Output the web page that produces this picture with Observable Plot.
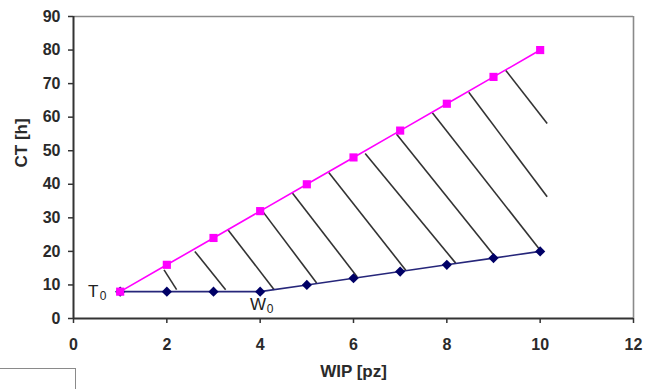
<!DOCTYPE html>
<html>
<head>
<meta charset="utf-8">
<script src="https://cdn.jsdelivr.net/npm/d3@7"></script>
<script src="https://cdn.jsdelivr.net/npm/@observablehq/plot@0.6"></script>
<style>
  html, body { margin: 0; padding: 0; background: #fff; }
  #wrap { position: relative; width: 653px; height: 389px; overflow: hidden; }
  #wrap svg { position: absolute; left: 0; top: 0; }
  #legendbox { position: absolute; left: -3px; top: 368px; width: 79px; height: 40px; border: 1.5px solid #8a8a8a; box-sizing: border-box; }
</style>
</head>
<body>
<div id="wrap"><div id="legendbox"></div></div>
<script>
// WIP values (pz)
const wip = [1, 2, 3, 4, 5, 6, 7, 8, 9, 10];
// Upper CT curve (magenta squares)
const ctUpper = [8, 16, 24, 32, 40, 48, 56, 64, 72, 80];
// Lower CT curve (navy diamonds)
const ctLower = [8, 8, 8, 8, 10, 12, 14, 16, 18, 20];
// Hatch lines (start on upper curve, end on lower curve or cut off)
const hatchX1 = [1.94, 2.60, 3.30, 4.05, 4.69, 5.47, 6.25, 6.92, 7.69, 8.47, 9.26];
const hatchY1 = [14.5, 20.0, 26.6, 32.0, 37.4, 43.5, 49.2, 55.0, 61.3, 67.4, 74.0];
const hatchX2 = [2.21, 3.26, 4.30, 5.21, 6.08, 7.12, 8.19, 9.04, 10.01, 10.15, 10.15];
const hatchY2 = [8.6, 8.6, 8.6, 10.6, 12.4, 14.4, 16.5, 18.3, 20.2, 36.3, 58.1];
// Axis ticks
const xTicks = [0, 2, 4, 6, 8, 10, 12];
const yTicks = [0, 10, 20, 30, 40, 50, 60, 70, 80, 90];
// Annotations
const annoMain = ["T", "W"];
const annoX = [0.31, 3.78];
const annoY = [8.1, 4.3];
const annoSub = ["0", "0"];
const annoSubX = [0.56, 4.14];
const annoSubY = [6.8, 2.9];

const upper = wip.map((w, i) => ({wip: w, ct: ctUpper[i]}));
const lower = wip.map((w, i) => ({wip: w, ct: ctLower[i]}));
const hatch = hatchX1.map((x, i) => ({x1: x, y1: hatchY1[i], x2: hatchX2[i], y2: hatchY2[i]}));
const anno = annoMain.map((t, i) => ({t, x: annoX[i], y: annoY[i]}));
const sub = annoSub.map((t, i) => ({t, x: annoSubX[i], y: annoSubY[i]}));

const chart = Plot.plot({
  width: 653,
  height: 389,
  marginLeft: 73,
  marginRight: 20,
  marginTop: 16,
  marginBottom: 71,
  x: {domain: [0, 12]},
  y: {domain: [0, 90]},
  style: {fontFamily: "Liberation Sans, Arial, sans-serif", fontSize: "16px", fontWeight: "bold", color: "#2a2a2a", background: "transparent"},
  marks: [
    Plot.ruleY([90], {stroke: "#8a8a8a", strokeWidth: 1.6}),
    Plot.ruleX([12], {stroke: "#8a8a8a", strokeWidth: 1.6}),
    Plot.axisX({ticks: xTicks, tickSize: 5, tickPadding: 15, label: null, stroke: "#333", strokeWidth: 1.5}),
    Plot.axisY({ticks: yTicks, tickSize: 5, tickPadding: 8, label: null, stroke: "#333", strokeWidth: 1.5}),
    Plot.ruleX([0], {stroke: "#333", strokeWidth: 2}),
    Plot.ruleY([0], {stroke: "#333", strokeWidth: 2}),
    Plot.link(hatch, {x1: "x1", y1: "y1", x2: "x2", y2: "y2", stroke: "#333", strokeWidth: 1.6}),
    Plot.line(lower, {x: "wip", y: "ct", stroke: "#26267a", strokeWidth: 1.6}),
    Plot.line(upper, {x: "wip", y: "ct", stroke: "#ff00ff", strokeWidth: 1.6}),
    Plot.dot(lower, {x: "wip", y: "ct", symbol: "diamond2", r: 4.6, fill: "#000066", stroke: "none"}),
    Plot.dot(upper, {x: "wip", y: "ct", symbol: "square", r: 4.6, fill: "#ff00ff", stroke: "none"}),
    Plot.text(anno, {x: "x", y: "y", text: "t", textAnchor: "start", fontSize: 17, fontWeight: "normal", fill: "#222"}),
    Plot.text(sub, {x: "x", y: "y", text: "t", textAnchor: "start", fontSize: 12, fontWeight: "normal", fill: "#222"}),
    Plot.text(["CT [h]"], {frameAnchor: "left", rotate: -90, dx: -52, fontSize: 17, fontWeight: "bold", fill: "#2a2a2a"}),
    Plot.text(["WIP [pz]"], {frameAnchor: "bottom", dy: 58, fontSize: 17, fontWeight: "bold", fill: "#2a2a2a"})
  ]
});
document.getElementById("wrap").appendChild(chart);
</script>
</body>
</html>
